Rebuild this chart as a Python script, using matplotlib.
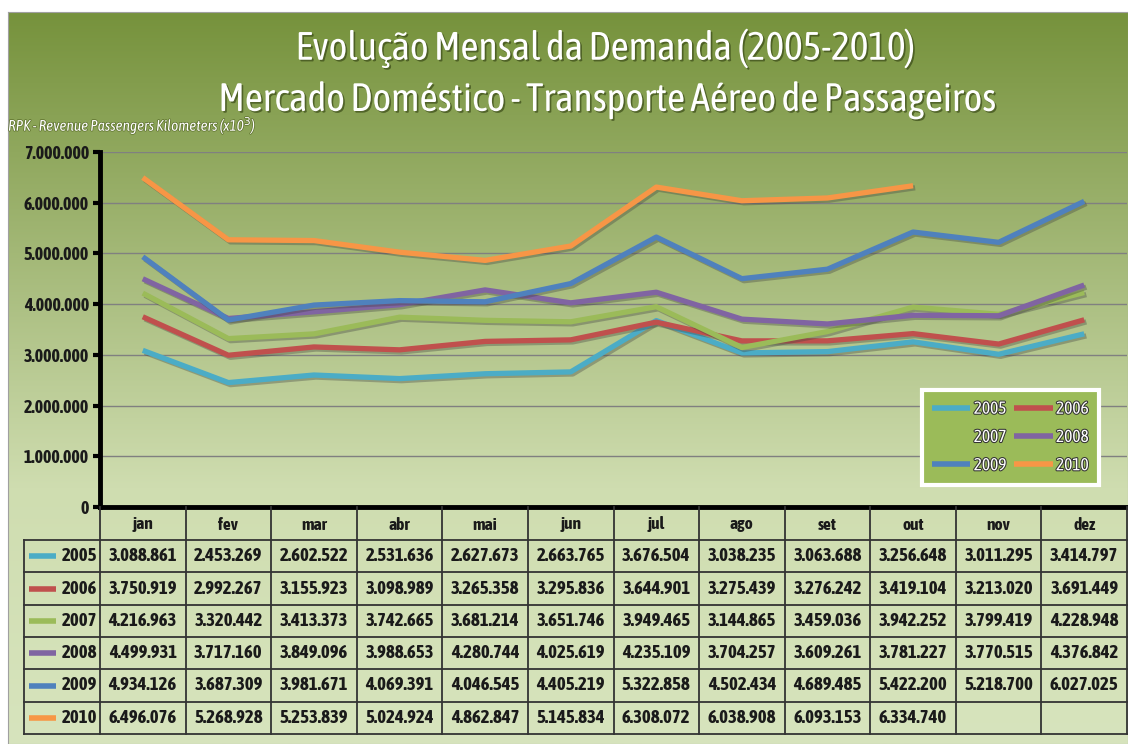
import matplotlib.pyplot as plt
import matplotlib.patheffects as pe
from matplotlib.colors import LinearSegmentedColormap
import numpy as np

# dados (RPK x10^3)
meses = ["jan", "fev", "mar", "abr", "mai", "jun", "jul", "ago", "set", "out", "nov", "dez"]
anos = ["2005", "2006", "2007", "2008", "2009", "2010"]
rpk_2005 = [3088861, 2453269, 2602522, 2531636, 2627673, 2663765, 3676504, 3038235, 3063688, 3256648, 3011295, 3414797]
rpk_2006 = [3750919, 2992267, 3155923, 3098989, 3265358, 3295836, 3644901, 3275439, 3276242, 3419104, 3213020, 3691449]
rpk_2007 = [4216963, 3320442, 3413373, 3742665, 3681214, 3651746, 3949465, 3144865, 3459036, 3942252, 3799419, 4228948]
rpk_2008 = [4499931, 3717160, 3849096, 3988653, 4280744, 4025619, 4235109, 3704257, 3609261, 3781227, 3770515, 4376842]
rpk_2009 = [4934126, 3687309, 3981671, 4069391, 4046545, 4405219, 5322858, 4502434, 4689485, 5422200, 5218700, 6027025]
rpk_2010 = [6496076, 5268928, 5253839, 5024924, 4862847, 5145834, 6308072, 6038908, 6093153, 6334740, None, None]
series = [rpk_2005, rpk_2006, rpk_2007, rpk_2008, rpk_2009, rpk_2010]
cores = ["#4BACC6", "#C0504D", "#9BBB59", "#8064A2", "#4F81BD", "#F79646"]

W, H = 1128, 744
fig = plt.figure(figsize=(W / 100, H / 100), dpi=100)

def box(x0, y0, x1, y1):
    # pixel coords, origin top-left
    return [x0 / W, 1 - y1 / H, (x1 - x0) / W, (y1 - y0) / H]

def fmt(v):
    return f"{v:,.0f}".replace(",", ".")

narrow = ["Asap Condensed", "DejaVu Sans"]
titulo = ["Asap Condensed", "Lato", "DejaVu Sans"]
tinta = "#1a1a1a"

# fundo em degradê
bg = fig.add_axes(box(8, 12, 1128, 744))
cmap = LinearSegmentedColormap.from_list("g", [(0, "#76923C"), (0.65, "#CFDDB0"), (1, "#D7E4BD")])
bg.imshow(np.linspace(0, 1, 256)[:, None], aspect="auto", cmap=cmap, extent=[0, 1, 0, 1])
bg.set_xticks([])
bg.set_yticks([])
for s in bg.spines.values():
    s.set_color("#A0A0A0")

# gráfico de linhas
ax = fig.add_axes(box(100, 152, 1127, 507))
ax.patch.set_alpha(0)
x = np.arange(len(meses))
sombra = [pe.SimpleLineShadow(offset=(1.5, -1.5), shadow_color="#404040", alpha=0.35), pe.Normal()]
for ano, vals, cor in zip(anos, series, cores):
    y = np.array([np.nan if v is None else v for v in vals], dtype=float)
    ax.plot(x, y, color=cor, lw=3.8, label=ano, path_effects=sombra, solid_capstyle="butt")
ax.set_xlim(-0.5, 11.5)
ax.set_ylim(0, 7000000)
ax.set_yticks(np.arange(0, 7000001, 1000000))
ax.set_yticklabels([fmt(v) for v in ax.get_yticks()], fontsize=13, fontweight="bold",
                   family=narrow, color=tinta)
ax.set_xticks([])
ax.tick_params(axis="y", length=5, width=3, color="black", pad=3)
ax.grid(axis="y", color="#808080", lw=1)
ax.set_axisbelow(True)
for s in ["top", "right"]:
    ax.spines[s].set_visible(False)
ax.spines["left"].set_linewidth(3.5)
ax.spines["bottom"].set_linewidth(3.5)

# legenda
h, l = ax.get_legend_handles_labels()
ordem = [0, 2, 4, 1, 3, 5]
leg = fig.legend([h[i] for i in ordem], [l[i] for i in ordem], ncol=2,
                 bbox_to_anchor=box(913, 388, 1108, 487), loc="center", mode="expand",
                 facecolor="#9BBB59", edgecolor="white", framealpha=1, fancybox=False,
                 fontsize=12.5, handlelength=2.2, handletextpad=0.2, labelspacing=0.65,
                 borderpad=0.6, columnspacing=1.5)
leg.get_frame().set_linewidth(3)
for t in leg.get_texts():
    t.set_color("white")
    t.set_family(narrow)
    t.set_path_effects([pe.withStroke(linewidth=1.5, foreground="#333333")])
for ln in leg.get_lines():
    ln.set_path_effects([])
    ln.set_linewidth(4)

# títulos
sh = [pe.withSimplePatchShadow(offset=(1.2, -1.2), shadow_rgbFace="#3a4a18", alpha=0.7)]
fig.text(606 / W, 1 - 48 / H, "Evolução Mensal da Demanda (2005-2010)", color="white",
         fontsize=28.5, family=titulo, ha="center", va="center", path_effects=sh)
fig.text(608 / W, 1 - 100 / H, "Mercado Doméstico - Transporte Aéreo de Passageiros", color="white",
         fontsize=28.5, family=titulo, ha="center", va="center", path_effects=sh)
fig.text(8 / W, 1 - 125 / H, "RPK - Revenue Passengers Kilometers (x10$^{3}$)", color="white",
         fontsize=11, style="italic", family=narrow, ha="left", va="center",
         path_effects=[pe.withStroke(linewidth=1, foreground="#5a6e2a")])

# tabela de dados
tab = fig.add_axes([0, 0, 1, 1])
tab.set_xlim(0, W)
tab.set_ylim(H, 0)
tab.axis("off")
x0, x1, xl = 100, 1127, 24
cw = (x1 - x0) / len(meses)
y_top, y_hdr, y_bot = 507, 540, 734
rh = (y_bot - y_hdr) / len(anos)
kw = dict(color="#333333", lw=1.3)
for i in range(len(meses) + 1):
    tab.plot([x0 + i * cw] * 2, [y_top, y_bot], **kw)
tab.plot([xl, xl], [y_hdr, y_bot], **kw)
for k in range(len(anos) + 1):
    tab.plot([xl, x1], [y_hdr + k * rh] * 2, **kw)
for i, m in enumerate(meses):
    tab.text(x0 + (i + 0.5) * cw, (y_top + y_hdr) / 2 + 1, m, ha="center", va="center",
             fontsize=12.5, fontweight="bold", family=narrow, color=tinta)
for k, (ano, vals, cor) in enumerate(zip(anos, series, cores)):
    yc = y_hdr + (k + 0.5) * rh
    tab.plot([29, 56], [yc, yc], color=cor, lw=4, solid_capstyle="butt")
    tab.text(97, yc, ano, ha="right", va="center", fontsize=13.5, fontweight="bold",
             family=narrow, color=tinta)
    for i, v in enumerate(vals):
        if v is not None:
            tab.text(x0 + (i + 0.5) * cw, yc, fmt(v), ha="center", va="center",
                     fontsize=13.5, fontweight="bold", family=narrow, color=tinta)

fig.savefig("out.png", dpi=100)
